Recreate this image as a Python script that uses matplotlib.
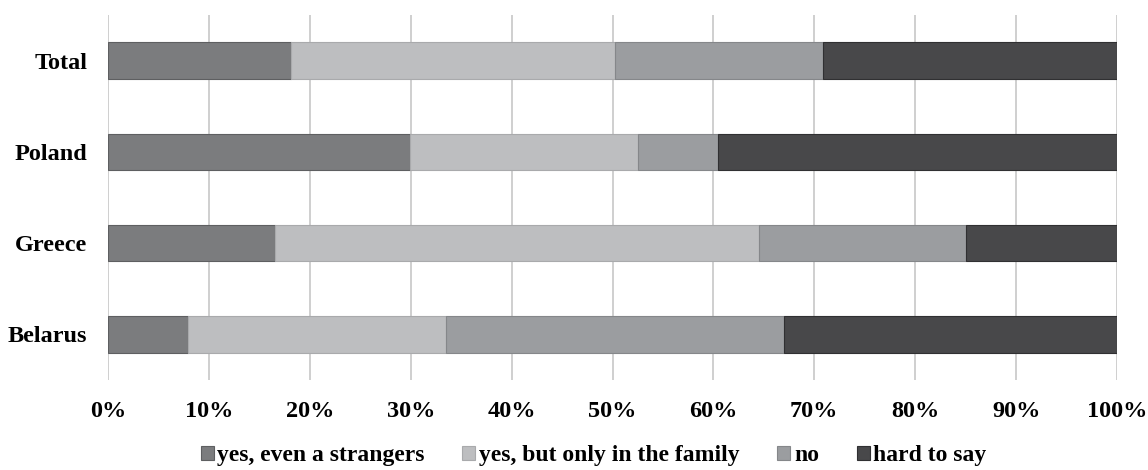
import numpy as np
import matplotlib.pyplot as plt

countries = ["Belarus", "Greece", "Poland", "Total"]
answers = ["yes, even a strangers", "yes, but only in the family", "no", "hard to say"]

# share of answers per country, in percent
yes_strangers = [7.9, 16.5, 29.9, 18.1]
yes_family = [25.6, 48.0, 22.6, 32.1]
no = [33.5, 20.5, 8.0, 20.7]
hard_to_say = [33.0, 15.0, 39.5, 29.1]

colors = ["#7b7c7e", "#bdbec0", "#9b9da0", "#48484a"]
edges = ["#5e5f61", "#a9aaac", "#85878a", "#303032"]

plt.rcParams["font.family"] = ["Liberation Serif", "DejaVu Serif"]
plt.rcParams["font.weight"] = "bold"

fig = plt.figure(figsize=(11.48, 4.70), dpi=100)
ax = fig.add_axes([0.0941, 0.1915, 0.8789, 0.7765])

y = np.arange(len(countries))
left = np.zeros(len(countries))
for vals, lab, c, ec in zip([yes_strangers, yes_family, no, hard_to_say], answers, colors, edges):
    ax.barh(y, vals, left=left, height=0.4, color=c, edgecolor=ec, linewidth=0.8,
            label=lab, zorder=3)
    left += np.array(vals)

ax.set_xlim(0, 100)
ax.set_ylim(-0.5, 3.5)
ax.set_xticks(np.arange(0, 101, 10))
ax.set_xticklabels([f"{v}%" for v in range(0, 101, 10)])
ax.set_yticks(y)
ax.set_yticklabels(countries)
ax.tick_params(axis="x", length=0, pad=15, labelsize=17.5)
ax.tick_params(axis="y", length=0, pad=15, labelsize=17.5)
ax.grid(axis="x", color="#cccccc", linewidth=1.3, zorder=0)
for s in ax.spines.values():
    s.set_visible(False)

fig.legend(loc="center", bbox_to_anchor=(0.517, 0.03), ncol=4, frameon=False,
           fontsize=17, handlelength=0.55, handleheight=0.55, handletextpad=0.15,
           columnspacing=1.6, borderpad=0)

fig.savefig("out.png", dpi=100)
